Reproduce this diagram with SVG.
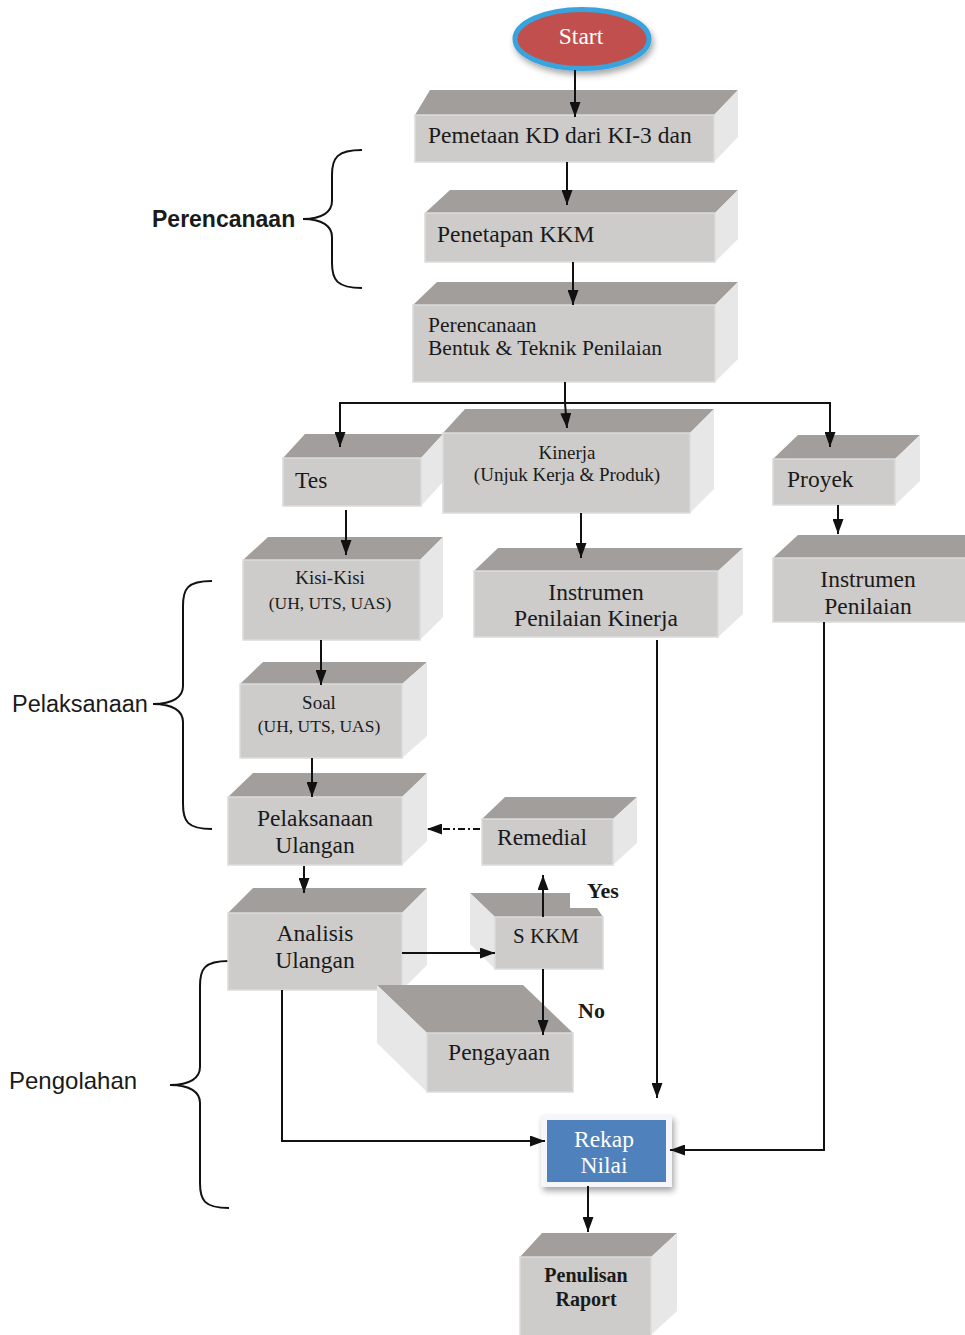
<svg xmlns="http://www.w3.org/2000/svg" width="965" height="1335" viewBox="0 0 965 1335">
<style>
.top{fill:#a29e9b}
.front{fill:#cdcccb;stroke:#dcdcdc;stroke-width:1.5}
.side{fill:#e7e7e7}
.t{font-family:"Liberation Serif",serif;font-size:23.5px;fill:#1a1a1a}
.s{font-family:"Liberation Serif",serif;font-size:19px;fill:#1a1a1a}
.m{font-family:"Liberation Serif",serif;font-size:21.5px;fill:#1a1a1a}
.b{font-family:"Liberation Serif",serif;font-size:20px;font-weight:bold;fill:#1a1a1a}
.lbl{font-family:"Liberation Sans",Arial,sans-serif;font-size:23.5px;fill:#1a1a1a}
.c{fill:none;stroke:#111;stroke-width:2}
.br{fill:none;stroke:#111;stroke-width:2}
</style>
<defs>
<marker id="ah" viewBox="0 0 15 11" refX="15" refY="5.5" markerWidth="15" markerHeight="11" markerUnits="userSpaceOnUse" orient="auto">
<path d="M0,0 L15,5.5 L0,11 z" fill="#111"/>
</marker>
<filter id="sh" x="-30%" y="-30%" width="160%" height="170%">
<feDropShadow dx="2" dy="4" stdDeviation="3" flood-color="#000" flood-opacity="0.35"/>
</filter>
</defs>
<rect width="965" height="1335" fill="#fff"/>

<g id="braces">
<path class="br" d="M362,150 C337,150 332,158 332,175 L332,201 C332,212 322,219 303,219 C322,219 332,226 332,237 L332,263 C332,280 337,288 362,288"/>
<text class="lbl" x="152" y="227" font-weight="bold" style="font-size:23px">Perencanaan</text>
<path class="br" d="M212,581 C187,581 183,589 183,606 L183,686 C183,697 173,704 153,704 C173,704 183,711 183,722 L183,804 C183,821 187,829 212,829"/>
<text class="lbl" x="12" y="712">Pelaksanaan</text>
<path class="br" d="M229,961 C204,961 200,969 200,986 L200,1067 C200,1078 190,1085 170,1085 C190,1085 200,1092 200,1103 L200,1183 C200,1200 204,1208 229,1208"/>
<text class="lbl" x="9" y="1089" style="font-size:24px">Pengolahan</text>
</g>

<g id="start">
<ellipse cx="582" cy="39" rx="67" ry="29.5" fill="#c0504d" stroke="#37a3dd" stroke-width="5" filter="url(#sh)"/>
<text class="t" x="581" y="44" text-anchor="middle" style="fill:#fff">Start</text>
</g>

<g id="pemetaan">
<polygon class="top" points="415,115 430,90 738,90 714,115"/>
<polygon class="side" points="714,115 738,90 738,137 714,162"/>
<rect class="front" x="415" y="115" width="299" height="47"/>
<text class="t" x="428" y="143">Pemetaan KD dari KI-3 dan</text>
</g>

<g id="penetapan">
<polygon class="top" points="425,213 450,190 738,190 715,213"/>
<polygon class="side" points="715,213 738,190 738,239 715,262"/>
<rect class="front" x="425" y="213" width="290" height="49"/>
<text class="t" x="437" y="242">Penetapan KKM</text>
</g>

<g id="perencanaan">
<polygon class="top" points="413,305 437,282 738,282 715,305"/>
<polygon class="side" points="715,305 738,282 738,359 715,382"/>
<rect class="front" x="413" y="305" width="302" height="77"/>
<text class="m" x="428" y="332">Perencanaan</text>
<text class="m" x="428" y="355">Bentuk &amp; Teknik Penilaian</text>
</g>

<g id="tes">
<polygon class="top" points="283,458 305,434 443,434 421,458"/>
<polygon class="side" points="421,458 443,434 443,482 421,506"/>
<rect class="front" x="283" y="458" width="138" height="48"/>
<text class="t" x="295" y="488">Tes</text>
</g>

<g id="kinerja">
<polygon class="top" points="443,433 465,409 714,409 690,433"/>
<polygon class="side" points="690,433 714,409 714,489 690,513"/>
<rect class="front" x="443" y="433" width="247" height="80"/>
<text class="s" x="567" y="459" text-anchor="middle">Kinerja</text>
<text class="s" x="567" y="481" text-anchor="middle">(Unjuk Kerja &amp; Produk)</text>
</g>

<g id="proyek">
<polygon class="top" points="773,459 798,435 920,435 895,459"/>
<polygon class="side" points="895,459 920,435 920,481 895,505"/>
<rect class="front" x="773" y="459" width="122" height="46"/>
<text class="t" x="787" y="487">Proyek</text>
</g>

<g id="kisi">
<polygon class="top" points="243,560 268,537 443,537 420,560"/>
<polygon class="side" points="420,560 443,537 443,617 420,640"/>
<rect class="front" x="243" y="560" width="177" height="80"/>
<text class="s" x="330" y="584" text-anchor="middle">Kisi-Kisi</text>
<text class="s" x="330" y="609" text-anchor="middle" style="font-size:17.5px">(UH, UTS, UAS)</text>
</g>

<g id="instrumen-kinerja">
<polygon class="top" points="474,571 498,548 743,548 718,571"/>
<polygon class="side" points="718,571 743,548 743,614 718,637"/>
<rect class="front" x="474" y="571" width="244" height="66"/>
<text class="t" x="596" y="600" text-anchor="middle">Instrumen</text>
<text class="t" x="596" y="626" text-anchor="middle">Penilaian Kinerja</text>
</g>

<g id="instrumen-penilaian">
<polygon class="top" points="773,558 798,535 966,535 966,558"/>
<rect class="front" x="773" y="558" width="194" height="64"/>
<text class="t" x="868" y="587" text-anchor="middle">Instrumen</text>
<text class="t" x="868" y="614" text-anchor="middle">Penilaian</text>
</g>

<g id="soal">
<polygon class="top" points="240,684 263,662 427,662 402,684"/>
<polygon class="side" points="402,684 427,662 427,736 402,758"/>
<rect class="front" x="240" y="684" width="162" height="74"/>
<text class="s" x="319" y="709" text-anchor="middle">Soal</text>
<text class="s" x="319" y="732" text-anchor="middle" style="font-size:17.5px">(UH, UTS, UAS)</text>
</g>

<g id="pelaksanaan-ulangan">
<polygon class="top" points="228,797 253,773 427,773 402,797"/>
<polygon class="side" points="402,797 427,773 427,841 402,865"/>
<rect class="front" x="228" y="797" width="174" height="68"/>
<text class="t" x="315" y="826" text-anchor="middle">Pelaksanaan</text>
<text class="t" x="315" y="853" text-anchor="middle">Ulangan</text>
</g>

<g id="remedial">
<polygon class="top" points="482,819 505,797 637,797 613,819"/>
<polygon class="side" points="613,819 637,797 637,843 613,865"/>
<rect class="front" x="482" y="819" width="131" height="46"/>
<text class="t" x="497" y="845">Remedial</text>
</g>

<g id="analisis-ulangan">
<polygon class="top" points="228,913 253,888 427,888 402,913"/>
<polygon class="side" points="402,913 427,888 427,965 402,990"/>
<rect class="front" x="228" y="913" width="174" height="77"/>
<text class="t" x="315" y="941" text-anchor="middle">Analisis</text>
<text class="t" x="315" y="968" text-anchor="middle">Ulangan</text>
</g>

<g id="skkm">
<polygon class="top" points="470,893 570,893 570,908 597,908 603,917 495,917"/>
<polygon class="side" points="470,893 495,917 495,969 470,944"/>
<rect class="front" x="495" y="917" width="108" height="52"/>
<text class="t" x="546" y="943" text-anchor="middle" style="font-size:21px">S KKM</text>
</g>

<g id="pengayaan">
<polygon class="top" points="377,985 523,985 573,1033 427,1033"/>
<polygon class="side" points="377,985 427,1033 427,1092 377,1043"/>
<rect class="front" x="427" y="1033" width="146" height="59"/>
<text class="t" x="499" y="1060" text-anchor="middle">Pengayaan</text>
</g>

<g id="rekap">
<rect x="541" y="1115" width="131" height="72" fill="#f4f6f9" filter="url(#sh)"/>
<rect x="547" y="1120" width="119" height="62" fill="#4f81bd"/>
<text class="t" x="604" y="1147" text-anchor="middle" style="fill:#fff">Rekap</text>
<text class="t" x="604" y="1173" text-anchor="middle" style="fill:#fff">Nilai</text>
</g>

<g id="penulisan">
<polygon class="top" points="520,1257 542,1233 677,1233 651,1257"/>
<polygon class="side" points="651,1257 677,1233 677,1311 651,1335"/>
<rect class="front" x="520" y="1257" width="131" height="80"/>
<text class="b" x="586" y="1282" text-anchor="middle">Penulisan</text>
<text class="b" x="586" y="1306" text-anchor="middle">Raport</text>
</g>

<g id="connectors">
<line class="c" x1="575" y1="70" x2="575" y2="117" marker-end="url(#ah)"/>
<line class="c" x1="567" y1="162" x2="567" y2="205" marker-end="url(#ah)"/>
<line class="c" x1="573" y1="262" x2="573" y2="305" marker-end="url(#ah)"/>
<polyline class="c" points="565,382 565,403 567,428" marker-end="url(#ah)"/>
<polyline class="c" points="340,447 340,403 830,403 830,447"/>
<line class="c" x1="340" y1="420" x2="340" y2="447" marker-end="url(#ah)"/>
<line class="c" x1="830" y1="420" x2="830" y2="447" marker-end="url(#ah)"/>
<line class="c" x1="346" y1="510" x2="346" y2="555" marker-end="url(#ah)"/>
<line class="c" x1="581" y1="513" x2="581" y2="558" marker-end="url(#ah)"/>
<line class="c" x1="838" y1="505" x2="838" y2="534" marker-end="url(#ah)"/>
<line class="c" x1="321" y1="640" x2="321" y2="685" marker-end="url(#ah)"/>
<line class="c" x1="312" y1="758" x2="312" y2="797" marker-end="url(#ah)"/>
<line class="c" x1="304" y1="866" x2="304" y2="893" marker-end="url(#ah)"/>
<line class="c" x1="480" y1="829" x2="427" y2="829" stroke-dasharray="7,3,2,3" marker-end="url(#ah)"/>
<line class="c" x1="402" y1="953" x2="495" y2="953" marker-end="url(#ah)"/>
<line class="c" x1="543" y1="917" x2="543" y2="875" marker-end="url(#ah)"/>
<line class="c" x1="543" y1="969" x2="543" y2="1035" marker-end="url(#ah)"/>
<polyline class="c" points="282,990 282,1141 545,1141" marker-end="url(#ah)"/>
<line class="c" x1="657" y1="640" x2="657" y2="1098" marker-end="url(#ah)"/>
<polyline class="c" points="824,622 824,1150 670,1150" marker-end="url(#ah)"/>
<line class="c" x1="588" y1="1186" x2="588" y2="1232" marker-end="url(#ah)"/>
<text class="b" x="587" y="898" style="font-size:22px">Yes</text>
<text class="b" x="578" y="1018" style="font-size:22px">No</text>
</g>
</svg>
